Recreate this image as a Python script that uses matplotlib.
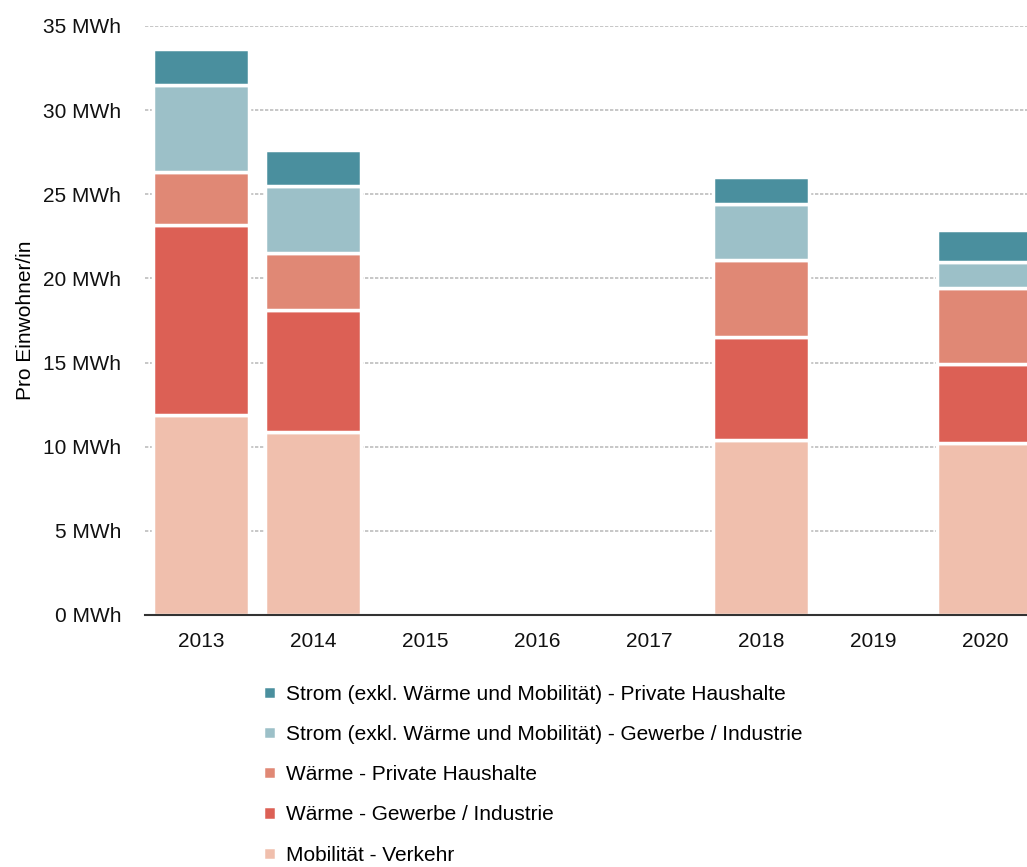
import matplotlib.pyplot as plt
import numpy as np

plt.rcParams['font.family'] = ['Liberation Sans', 'DejaVu Sans']

years = ["2013", "2014", "2015", "2016", "2017", "2018", "2019", "2020"]

# values in MWh per inhabitant, bottom to top (0 = no data)
mobilitaet = [11.9, 10.9, 0, 0, 0, 10.4, 0, 10.2]
waerme_gewerbe = [11.3, 7.2, 0, 0, 0, 6.1, 0, 4.7]
waerme_privat = [3.1, 3.4, 0, 0, 0, 4.6, 0, 4.5]
strom_gewerbe = [5.2, 4.0, 0, 0, 0, 3.3, 0, 1.6]
strom_privat = [2.1, 2.1, 0, 0, 0, 1.6, 0, 1.9]

series = [
    ("Mobilität - Verkehr", mobilitaet, "#f0bfad"),
    ("Wärme - Gewerbe / Industrie", waerme_gewerbe, "#dc6055"),
    ("Wärme - Private Haushalte", waerme_privat, "#e08875"),
    ("Strom (exkl. Wärme und Mobilität) - Gewerbe / Industrie", strom_gewerbe, "#9cc0c8"),
    ("Strom (exkl. Wärme und Mobilität) - Private Haushalte", strom_privat, "#4a8f9e"),
]

fig = plt.figure(figsize=(10.27, 8.67), dpi=100)
ax = fig.add_axes([0.141, 0.2907, 0.8726, 0.6794])

x = np.arange(len(years))
bottom = np.zeros(len(years))
handles = []
for label, vals, color in series:
    vals = np.array(vals, dtype=float)
    shown = np.where(vals > 0, vals, np.nan)
    b = ax.bar(x, shown, 0.86, bottom=bottom, color=color, edgecolor="white",
               linewidth=2.5, label=label, zorder=3)
    handles.append(b)
    bottom += vals

ax.set_xlim(-0.5, len(years) - 0.5)
ax.set_ylim(0, 35)
ax.set_yticks(range(0, 36, 5))
ax.set_yticklabels([f"{v} MWh" for v in range(0, 36, 5)], fontsize=15)
ax.set_xticks(x)
ax.set_xticklabels(years, fontsize=15)
ax.tick_params(axis="y", length=0, pad=17, colors="#111111")
ax.tick_params(axis="x", length=0, pad=12, colors="#111111")
ax.set_ylabel("Pro Einwohner/in", fontsize=15, labelpad=6)

ax.grid(axis="y", color="#bdbdbd", linestyle=(0, (2, 1)), linewidth=1.2, zorder=0)
for s in ["top", "right", "left"]:
    ax.spines[s].set_visible(False)
ax.spines["bottom"].set_color("#333333")
ax.spines["bottom"].set_linewidth(1.5)
ax.spines["bottom"].set_zorder(5)

fig.legend(handles[::-1], [s[0] for s in series][::-1], loc="upper left",
           bbox_to_anchor=(0.238, 0.232), frameon=False, fontsize=15,
           handlelength=0.6, handleheight=0.6, handletextpad=0.5,
           labelspacing=1.02)

fig.savefig("out.png", dpi=100)
